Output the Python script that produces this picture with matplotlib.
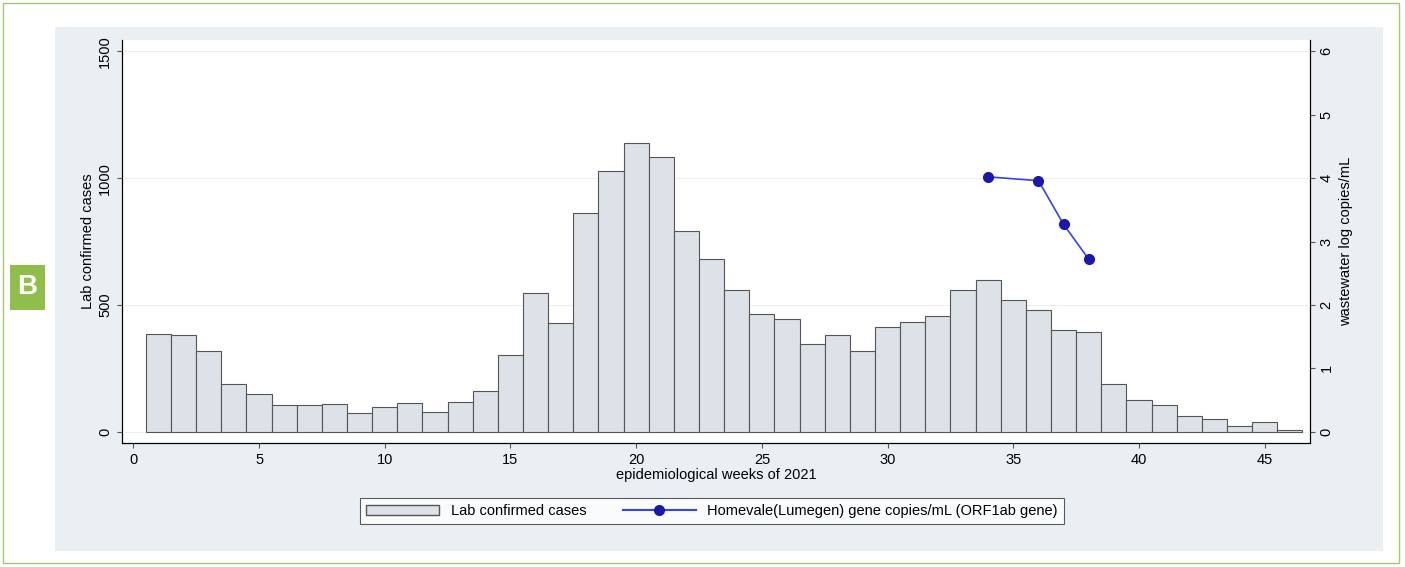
import matplotlib.pyplot as plt
import matplotlib.patches as mpatches
from matplotlib.lines import Line2D

plt.rcParams['font.family'] = ['Liberation Sans', 'DejaVu Sans']

weeks = list(range(1, 47))
cases = [385, 381, 318, 188, 149, 106, 106, 110, 75, 98, 114, 79, 118, 161, 302,
         546, 428, 864, 1029, 1139, 1084, 793, 679, 558, 463, 444, 345, 381, 318,
         412, 432, 455, 558, 597, 518, 479, 400, 393, 188, 126, 106, 63, 51, 24, 39, 8]
ww_weeks = [34, 36, 37, 38]
ww_log = [4.02, 3.96, 3.27, 2.72]

W, H = 1405, 567
fig = plt.figure(figsize=(W / 100, H / 100), dpi=100)
fig.patch.set_facecolor('white')

# outer frame and panel background
fig.add_artist(mpatches.Rectangle((3 / W, 1 - 563 / H), 1396 / W, 560 / H, transform=fig.transFigure,
                                  fill=False, edgecolor='#a8c66c', lw=1))
fig.add_artist(mpatches.Rectangle((55 / W, 1 - 551 / H), 1328 / W, 524 / H, transform=fig.transFigure,
                                  facecolor='#e9eff3', edgecolor='none', zorder=0))
fig.add_artist(mpatches.Rectangle((10 / W, 1 - 310 / H), 35 / W, 45 / H, transform=fig.transFigure,
                                  facecolor='#8fbf4a', edgecolor='none'))
fig.text(27.5 / W, 1 - 287.5 / H, 'B', color='white', fontsize=20, fontweight='bold',
         ha='center', va='center')

ax = fig.add_axes([122 / W, 1 - 443 / H, (1310 - 122) / W, (443 - 40) / H])
ax.set_facecolor('white')
ax.bar(weeks, cases, width=1.0, color='#dde1e8', edgecolor='#555555', linewidth=0.8, zorder=2)
ax.set_xlim(-0.45, 46.8)
ax.set_ylim(-45, 1545)
ax.set_yticks([0, 500, 1000, 1500])
ax.set_yticklabels(['0', '500', '1000', '1500'], rotation=90, va='center')
ax.set_xticks([0, 5, 10, 15, 20, 25, 30, 35, 40, 45])
ax.grid(axis='y', color='#eeeeee', lw=0.8, zorder=0)
ax.set_xlabel('epidemiological weeks of 2021', fontsize=10.5, labelpad=1)
ax.set_ylabel('Lab confirmed cases', fontsize=10.5, labelpad=2)
ax.tick_params(labelsize=10.5, color='#555555')
ax.spines['top'].set_visible(False)

ax2 = ax.twinx()
ax2.plot(ww_weeks, ww_log, color='#3344ee', lw=1.2, marker='o', markersize=7,
         markerfacecolor='#1a1aaa', markeredgecolor='#1a1aaa', zorder=3)
ax2.set_ylim(-45 * 6 / 1500, 1545 * 6 / 1500)
ax2.set_yticks(range(7))
ax2.set_yticklabels([str(i) for i in range(7)], rotation=90, va='center')
ax2.set_ylabel('wastewater log copies/mL', fontsize=10.5, labelpad=4)
ax2.tick_params(labelsize=10.5, color='#555555')
ax2.spines['top'].set_visible(False)

handles = [mpatches.Patch(facecolor='#dde1e8', edgecolor='#555555', label='Lab confirmed cases'),
           Line2D([], [], color='#3344ee', marker='o', markersize=7, markerfacecolor='#1a1aaa',
                  markeredgecolor='#1a1aaa', label='Homevale(Lumegen) gene copies/mL (ORF1ab gene)')]
leg = fig.legend(handles=handles, loc='center', bbox_to_anchor=(712 / W, 1 - 511 / H), ncol=2,
                 fontsize=10.5, frameon=True, fancybox=False, edgecolor='#333333',
                 handlelength=5, columnspacing=2.5)
leg.get_frame().set_linewidth(0.8)

fig.savefig('out.png', dpi=100, facecolor='white')
